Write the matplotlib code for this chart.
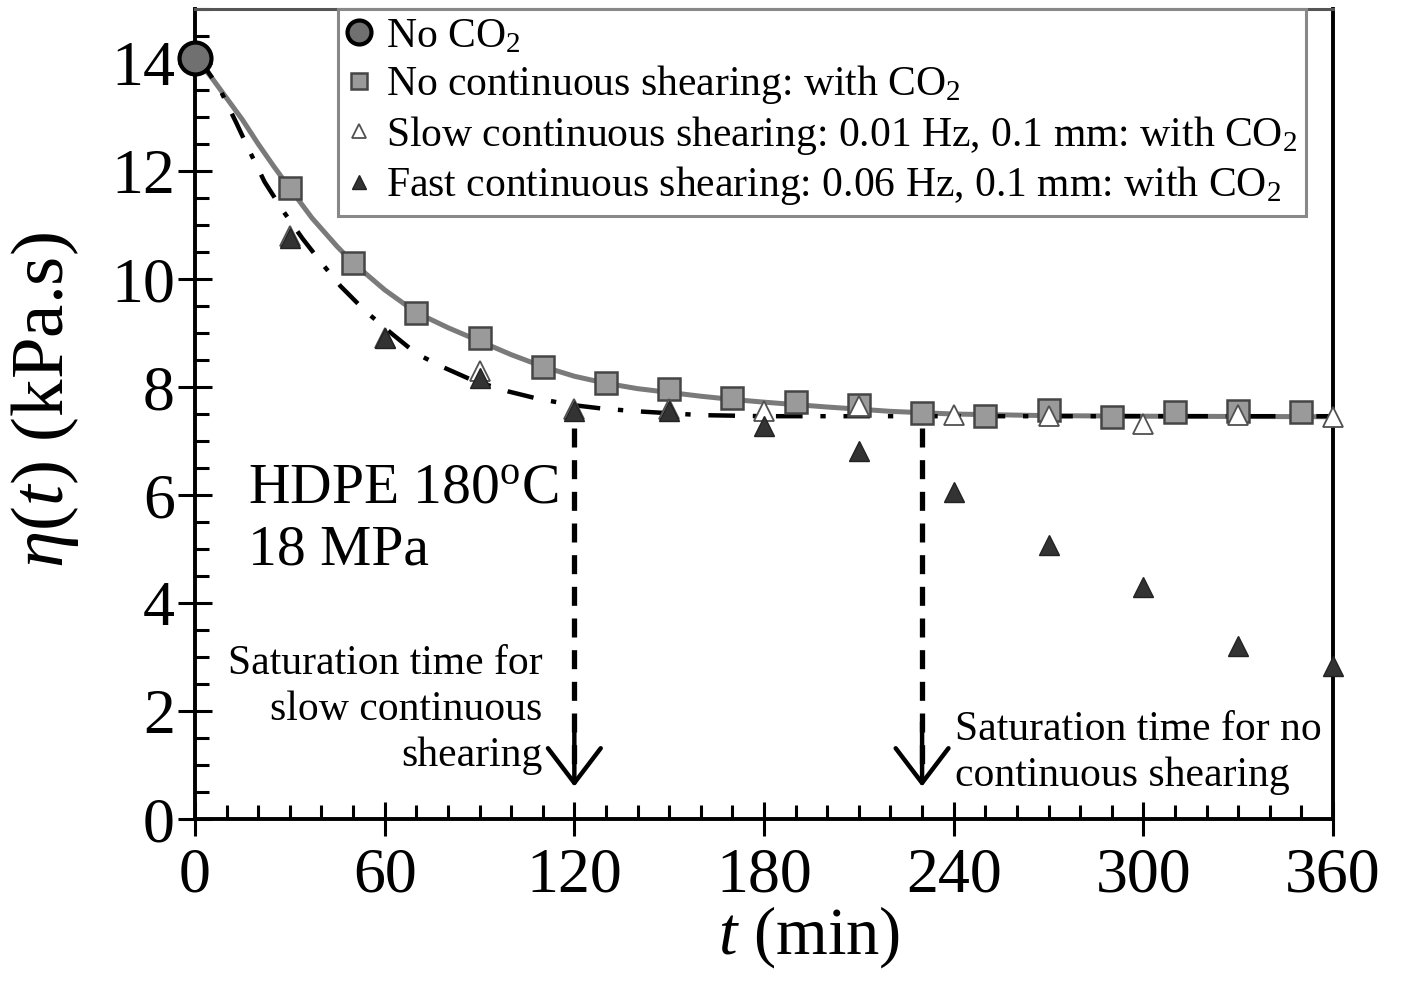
import matplotlib
matplotlib.use("Agg")
import matplotlib.pyplot as plt
from matplotlib.ticker import MultipleLocator

# data
t_circle = [0]
eta_circle = [14.1]

t_square = [30, 50, 70, 90, 110, 130, 150, 170, 190, 210, 230, 250, 270, 290, 310, 330, 350]
eta_square = [11.68, 10.3, 9.37, 8.9, 8.38, 8.07, 7.97, 7.79, 7.73, 7.66, 7.51, 7.47, 7.58, 7.45, 7.53, 7.55, 7.53]

t_tri = [0, 30, 60, 90, 120, 150, 180, 210, 240, 270, 300, 330, 360]
eta_slow = [14.1, 10.8, 8.9, 8.3, 7.6, 7.6, 7.56, 7.64, 7.49, 7.47, 7.32, 7.49, 7.45]
eta_fast = [14.1, 10.76, 8.9, 8.16, 7.56, 7.55, 7.27, 6.82, 6.06, 5.07, 4.29, 3.2, 2.84]

# fitted curves
t_fit_no = [0, 5, 10, 15, 20, 25, 30, 37, 45, 50, 60, 70, 80, 90, 100, 110, 120, 130, 140,
            150, 160, 170, 180, 200, 220, 240, 270, 300, 360]
eta_fit_no = [14.1, 13.75, 13.35, 12.95, 12.5, 12.08, 11.68, 11.13, 10.6, 10.3, 9.8, 9.38, 9.1,
              8.85, 8.6, 8.38, 8.2, 8.07, 7.97, 7.9, 7.83, 7.77, 7.72, 7.63, 7.55, 7.5, 7.47, 7.46, 7.45]
t_fit_sh = [0, 4, 8, 13, 17, 22, 28, 34, 40, 46, 54, 62, 70, 78, 88, 99, 108, 119, 129, 140,
            160, 180, 360]
eta_fit_sh = [14.1, 13.85, 13.5, 12.9, 12.4, 11.8, 11.25, 10.75, 10.3, 9.87, 9.4, 9.0, 8.62, 8.38,
              8.12, 7.92, 7.79, 7.67, 7.6, 7.55, 7.48, 7.46, 7.46]

# saturation times
t_sat = [120, 230]

plt.rcParams['font.family'] = ['Liberation Serif', 'DejaVu Serif']
plt.rcParams['mathtext.fontset'] = 'custom'
plt.rcParams['mathtext.rm'] = 'Liberation Serif'
plt.rcParams['mathtext.it'] = 'Liberation Serif:italic'

fig = plt.figure(figsize=(14.02, 9.83), dpi=100)
ax = fig.add_axes([0.1391, 0.1668, 0.8117, 0.824])

ax.plot(t_fit_no, eta_fit_no, color='#7a7a7a', lw=3.6, zorder=2)
ax.plot(t_fit_sh, eta_fit_sh, color='black', lw=3.2, dashes=(6, 4, 1.2, 4), zorder=2)

for ts in t_sat:
    ax.plot([ts, ts], [7.25, 0.75], color='black', lw=3.8, dashes=(3.6, 2.4), zorder=1)
    ax.annotate('', xy=(ts, 0.6), xytext=(ts, 1.8),
                arrowprops=dict(arrowstyle='->,head_length=2.5,head_width=1.9',
                                lw=3.2, color='black', shrinkA=0, shrinkB=0))

ax.plot(t_square, eta_square, 's', ms=15.5, mfc='#9a9a9a', mec='#454545', mew=1.8, zorder=3,
        clip_on=False, label='No continuous shearing: with CO$_2$')
ax.plot(t_tri, eta_slow, '^', ms=14, mfc='white', mec='#505050', mew=1.3, zorder=4,
        clip_on=False, label='Slow continuous shearing: 0.01 Hz, 0.1 mm: with CO$_2$')
ax.plot(t_tri, eta_fast, '^', ms=14, mfc='#333333', mec='#222222', mew=1.0, zorder=4,
        clip_on=False, label='Fast continuous shearing: 0.06 Hz, 0.1 mm: with CO$_2$')
ax.plot(t_circle, eta_circle, 'o', ms=23, mfc='#707070', mec='black', mew=3, zorder=5,
        clip_on=False, label='No CO$_2$')

ax.set_xlim(0, 360)
ax.set_ylim(0, 15)
ax.xaxis.set_major_locator(MultipleLocator(60))
ax.xaxis.set_minor_locator(MultipleLocator(10))
ax.yaxis.set_major_locator(MultipleLocator(2))
ax.yaxis.set_minor_locator(MultipleLocator(0.5))
ax.tick_params(which='major', direction='inout', length=25, width=2.2, labelsize=46)
ax.tick_params(which='minor', direction='in', length=10, width=2.2)
ax.tick_params(axis='x', which='major', pad=8)
ax.tick_params(axis='y', which='major', pad=2)

for side in ['left', 'bottom', 'right']:
    ax.spines[side].set_linewidth(2.8)
ax.spines['top'].set_linewidth(2.2)
ax.spines['top'].set_color('#555555')

ax.set_xlabel('$t$ (min)', fontsize=48)
ax.xaxis.set_label_coords(0.54, -0.105)
ax.set_ylabel(r'$\eta$($t$) (kPa.s)', fontsize=54)
ax.yaxis.set_label_coords(-0.1, 0.517)

ax.text(16.8, 5.54, 'HDPE 180$^{\\rm o}$C\n18 MPa', fontsize=41.5, va='center', ha='left',
        linespacing=1.25)
ax.text(110, 2.03, 'Saturation time for\nslow continuous\nshearing', fontsize=30,
        ha='right', va='center', multialignment='right', linespacing=1.25)
ax.text(240.4, 1.22, 'Saturation time for no\ncontinuous shearing', fontsize=30,
        ha='left', va='center', linespacing=1.25)

h, l = ax.get_legend_handles_labels()
order = [3, 0, 1, 2]
leg = ax.legend([h[i] for i in order], [l[i] for i in order], loc='upper left',
                bbox_to_anchor=(0.1257, 1.0), borderaxespad=0, fontsize=30,
                frameon=True, fancybox=False, edgecolor='#888888', framealpha=1,
                handlelength=0.6, handletextpad=0.35, labelspacing=0.18, borderpad=0.2,
                markerscale=0.75)
leg.get_frame().set_linewidth(2.2)
leg.set_zorder(6)

fig.savefig('out.png', dpi=100)
